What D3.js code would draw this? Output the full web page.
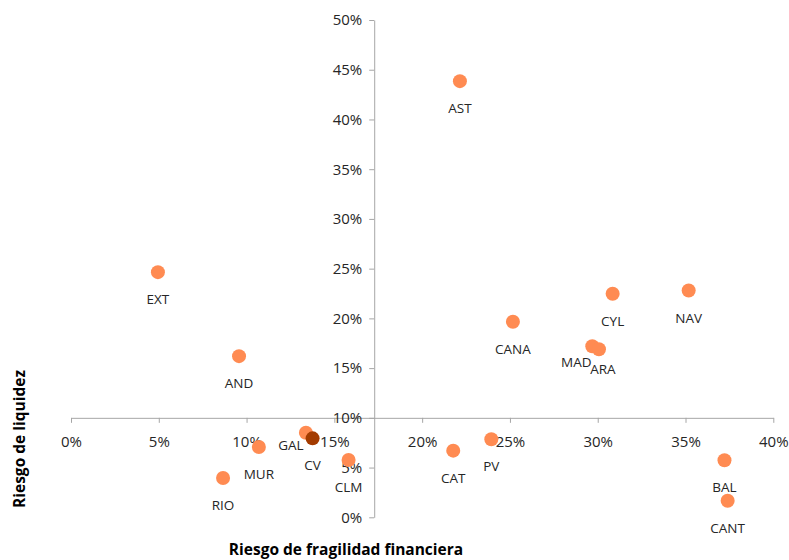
<!DOCTYPE html>
<html><head><meta charset="utf-8">
<script src="https://cdn.jsdelivr.net/npm/d3@7/dist/d3.min.js"></script>
<style>body{margin:0;background:#fff}svg{display:block}text{font-family:"Open Sans","Noto Sans",sans-serif}</style>
</head><body><svg id="c" width="789" height="560"></svg>
<script>
const regions = ["AST","EXT","AND","CANA","CYL","NAV","MAD","ARA","MUR","RIO","GAL","CV","CLM","CAT","PV","BAL","CANT"];
const fragilidad = [22.15,4.95,9.57,25.17,30.85,35.18,29.69,30.07,10.7,8.66,13.38,13.76,15.81,21.77,23.94,37.22,37.4];
const liquidez = [43.85,24.65,16.2,19.66,22.47,22.8,17.2,16.9,7.07,3.95,8.5,7.94,5.76,6.7,7.84,5.73,1.67];
const highlighted = ["CV"];
const xTicks = [0,5,10,15,20,25,30,35,40];
const yTicks = [0,5,10,15,20,25,30,35,40,45,50];
const xTitle = "Riesgo de fragilidad financiera";
const yTitle = "Riesgo de liquidez";
// label nudges (px) for overlapping labels
const labelNudge = {GAL:[-15,-15], MAD:[-16,-11], ARA:[4,-7]};

const svg = d3.select("#c");
const x = d3.scaleLinear().domain([0,40]).range([71,773.3]);
const y = d3.scaleLinear().domain([0,50]).range([517.3,20]);
const axisColor = "#A6A6A6", textColor = "#262626";

const xAx = svg.append("g").attr("transform",`translate(0,${y(10)})`)
  .call(d3.axisBottom(x).tickValues(xTicks).tickFormat(d=>d+"%").tickSize(5).tickPadding(14).tickSizeOuter(0));
const yAx = svg.append("g").attr("transform",`translate(${x(17.27)},0)`)
  .call(d3.axisLeft(y).tickValues(yTicks).tickFormat(d=>d+"%").tickSize(5).tickPadding(7).tickSizeOuter(0));
[xAx,yAx].forEach(g=>{
  g.selectAll("path,line").attr("stroke",axisColor).attr("stroke-width",1);
  g.selectAll("text").attr("fill",textColor).style("font-size","15px").style("font-family",'"Open Sans","Noto Sans",sans-serif');
});

const data = regions.map((r,i)=>({r, fx:fragilidad[i], ly:liquidez[i]}));
svg.append("g").selectAll("circle").data(data).join("circle")
  .attr("cx",d=>x(d.fx)).attr("cy",d=>y(d.ly)).attr("r",7)
  .attr("fill",d=>highlighted.includes(d.r)?"#A33B00":"#FF8B52");
svg.append("g").selectAll("text").data(data).join("text")
  .attr("x",d=>x(d.fx)+(labelNudge[d.r]?labelNudge[d.r][0]:0))
  .attr("y",d=>y(d.ly)+32+(labelNudge[d.r]?labelNudge[d.r][1]:0))
  .attr("text-anchor","middle").attr("fill",textColor).style("font-size","13.5px")
  .text(d=>d.r);

svg.append("text").attr("x",346).attr("y",555).attr("text-anchor","middle")
  .attr("fill","#000").style("font-size","15.5px").style("font-weight","bold").text(xTitle);
svg.append("text").attr("transform","translate(25,439) rotate(-90)").attr("text-anchor","middle")
  .attr("fill","#000").style("font-size","15.5px").style("font-weight","bold").text(yTitle);
</script></body></html>
